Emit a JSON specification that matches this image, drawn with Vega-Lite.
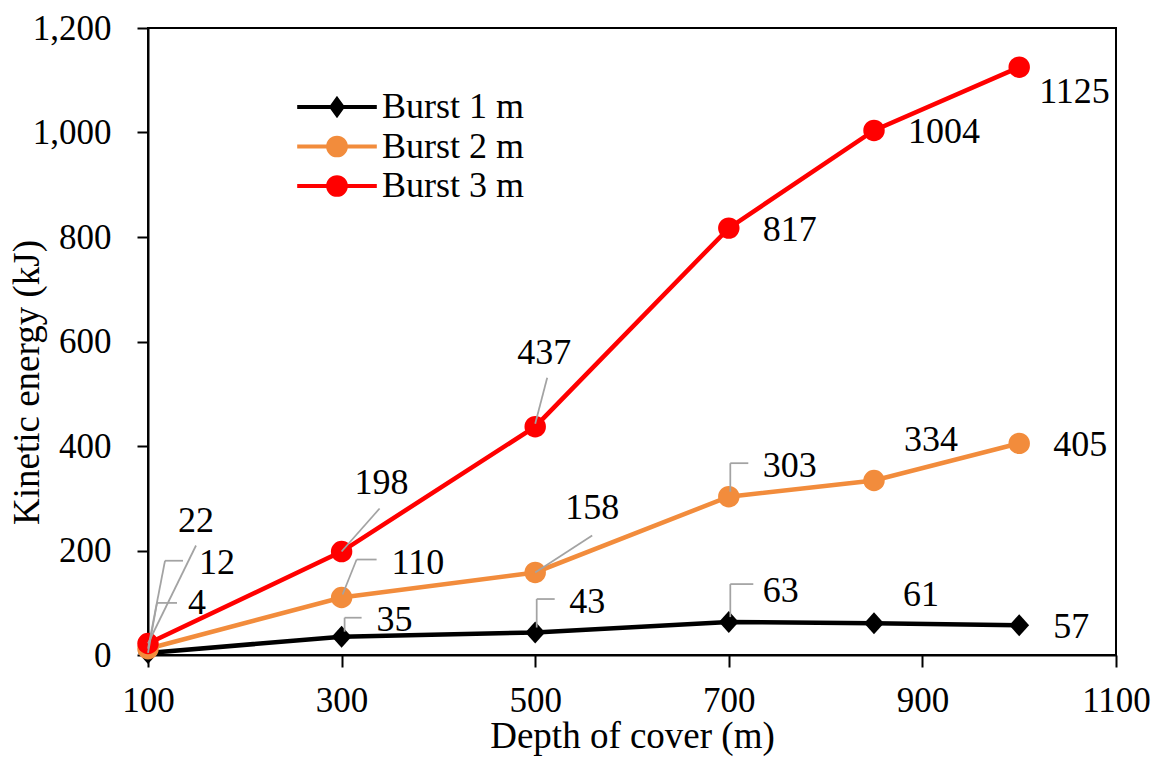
{
  "$schema": "https://vega.github.io/schema/vega-lite/v6.json",
  "width": 968,
  "height": 627,
  "autosize": "none",
  "padding": {"left": 148, "top": 28, "right": 44, "bottom": 102},
  "background": "white",
  "data": {
    "values": [
      {"series": "Burst 1 m", "depth": 100, "energy": 4},
      {"series": "Burst 1 m", "depth": 300, "energy": 35},
      {"series": "Burst 1 m", "depth": 500, "energy": 43},
      {"series": "Burst 1 m", "depth": 700, "energy": 63},
      {"series": "Burst 1 m", "depth": 850, "energy": 61},
      {"series": "Burst 1 m", "depth": 1000, "energy": 57},
      {"series": "Burst 2 m", "depth": 100, "energy": 12},
      {"series": "Burst 2 m", "depth": 300, "energy": 110},
      {"series": "Burst 2 m", "depth": 500, "energy": 158},
      {"series": "Burst 2 m", "depth": 700, "energy": 303},
      {"series": "Burst 2 m", "depth": 850, "energy": 334},
      {"series": "Burst 2 m", "depth": 1000, "energy": 405},
      {"series": "Burst 3 m", "depth": 100, "energy": 22},
      {"series": "Burst 3 m", "depth": 300, "energy": 198},
      {"series": "Burst 3 m", "depth": 500, "energy": 437},
      {"series": "Burst 3 m", "depth": 700, "energy": 817},
      {"series": "Burst 3 m", "depth": 850, "energy": 1004},
      {"series": "Burst 3 m", "depth": 1000, "energy": 1125}
    ]
  },
  "encoding": {
    "x": {
      "field": "depth", "type": "quantitative",
      "scale": {"domain": [100, 1100], "nice": false, "zero": false},
      "axis": {"values": [100, 300, 500, 700, 900, 1100], "format": "d", "tickSize": 12, "labelPadding": 16, "labelFlush": false, "labelOverlap": false, "title": "Depth of cover (m)", "titlePadding": 0}
    },
    "y": {
      "field": "energy", "type": "quantitative",
      "scale": {"domain": [0, 1200], "nice": false},
      "axis": {"values": [0, 200, 400, 600, 800, 1000, 1200], "format": ",.0f", "tickSize": 11, "labelPadding": 26, "labelFlush": false, "labelOverlap": false, "title": "Kinetic energy (kJ)", "titleX": -102, "titleY": 354, "titleBaseline": "bottom", "titleAngle": -90, "titleAlign": "center"}
    }
  },
  "layer": [
    {
      "mark": {"type": "line", "strokeWidth": 4.5},
      "encoding": {
        "color": {
          "field": "series", "type": "nominal",
          "scale": {"domain": ["Burst 1 m", "Burst 2 m", "Burst 3 m"], "range": ["#000000", "#F28C3C", "#FF0000"]},
          "legend": {
            "orient": "none", "legendX": 171, "legendY": 61, "title": null, "padding": 0,
            "symbolSize": 484, "symbolStrokeWidth": 1.5, "symbolOpacity": 1, "labelOffset": 27, "labelFontSize": 36, "labelColor": "black", "rowPadding": 3.5
          }
        }
      }
    },
    {
      "mark": {"type": "point", "filled": true, "opacity": 0, "size": 484},
      "encoding": {
        "color": {"field": "series", "type": "nominal"},
        "shape": {
          "field": "series", "type": "nominal",
          "scale": {"domain": ["Burst 1 m", "Burst 2 m", "Burst 3 m"], "range": [
            "M-3.55,-0.12H3.55V0.12H-3.55ZM0,-0.9L0.65,0L0,0.9L-0.65,0Z",
            "M-3.55,-0.12H3.55V0.12H-3.55ZM-0.92,0A0.92,0.92,0,1,1,0.92,0A0.92,0.92,0,1,1,-0.92,0Z",
            "M-3.55,-0.12H3.55V0.12H-3.55ZM-0.92,0A0.92,0.92,0,1,1,0.92,0A0.92,0.92,0,1,1,-0.92,0Z"
          ]},
          "legend": {
            "orient": "none", "legendX": 171, "legendY": 61, "title": null, "padding": 0,
            "symbolSize": 484, "symbolStrokeWidth": 1.5, "symbolOpacity": 1, "labelOffset": 27, "labelFontSize": 36, "labelColor": "black", "rowPadding": 3.5
          }
        }
      }
    },
    {
      "transform": [{"filter": "datum.series === 'Burst 1 m'"}],
      "mark": {"type": "point", "filled": true, "opacity": 1, "size": 484, "shape": "M-0.9,0L0,-1L0.9,0L0,1Z"},
      "encoding": {"color": {"field": "series", "type": "nominal", "legend": null}}
    },
    {
      "transform": [{"filter": "datum.series !== 'Burst 1 m'"}],
      "mark": {"type": "point", "filled": true, "opacity": 1, "size": 460, "shape": "circle"},
      "encoding": {"color": {"field": "series", "type": "nominal", "legend": null}}
    },
    {"transform": [{"filter": "datum.series === 'Burst 3 m' && datum.depth === 100"}], "mark": {"type": "rule", "xOffset": 0, "yOffset": 0, "x2Offset": 48, "y2Offset": -98}, "encoding": {"x2": {"field": "depth"}, "y2": {"field": "energy"}}},
    {"transform": [{"filter": "datum.series === 'Burst 3 m' && datum.depth === 300"}], "mark": {"type": "rule", "xOffset": 0, "yOffset": 0, "x2Offset": 38, "y2Offset": -43}, "encoding": {"x2": {"field": "depth"}, "y2": {"field": "energy"}}},
    {"transform": [{"filter": "datum.series === 'Burst 2 m' && datum.depth === 500"}], "mark": {"type": "rule", "xOffset": 0, "yOffset": 0, "x2Offset": 57, "y2Offset": -37}, "encoding": {"x2": {"field": "depth"}, "y2": {"field": "energy"}}},
    {"transform": [{"filter": "datum.series === 'Burst 3 m' && datum.depth === 500"}], "mark": {"type": "rule", "xOffset": 0, "yOffset": -3, "x2Offset": 12, "y2Offset": -49}, "encoding": {"x2": {"field": "depth"}, "y2": {"field": "energy"}}},
    {"transform": [{"filter": "datum.series === 'Burst 2 m' && datum.depth === 100"}], "mark": {"type": "rule", "xOffset": 0, "yOffset": 0, "x2Offset": 17, "y2Offset": -88}, "encoding": {"x2": {"field": "depth"}, "y2": {"field": "energy"}}},
    {"transform": [{"filter": "datum.series === 'Burst 2 m' && datum.depth === 100"}], "mark": {"type": "rule", "xOffset": 17, "yOffset": -88, "x2Offset": 35, "y2Offset": -88}, "encoding": {"x2": {"field": "depth"}, "y2": {"field": "energy"}}},
    {"transform": [{"filter": "datum.series === 'Burst 1 m' && datum.depth === 100"}], "mark": {"type": "rule", "xOffset": 0, "yOffset": 0, "x2Offset": 9, "y2Offset": -50}, "encoding": {"x2": {"field": "depth"}, "y2": {"field": "energy"}}},
    {"transform": [{"filter": "datum.series === 'Burst 1 m' && datum.depth === 100"}], "mark": {"type": "rule", "xOffset": 9, "yOffset": -50, "x2Offset": 29, "y2Offset": -50}, "encoding": {"x2": {"field": "depth"}, "y2": {"field": "energy"}}},
    {"transform": [{"filter": "datum.series === 'Burst 1 m' && datum.depth === 300"}], "mark": {"type": "rule", "xOffset": 3, "yOffset": -5, "x2Offset": 3, "y2Offset": -19}, "encoding": {"x2": {"field": "depth"}, "y2": {"field": "energy"}}},
    {"transform": [{"filter": "datum.series === 'Burst 1 m' && datum.depth === 300"}], "mark": {"type": "rule", "xOffset": 3, "yOffset": -19, "x2Offset": 20, "y2Offset": -19}, "encoding": {"x2": {"field": "depth"}, "y2": {"field": "energy"}}},
    {"transform": [{"filter": "datum.series === 'Burst 2 m' && datum.depth === 300"}], "mark": {"type": "rule", "xOffset": 1, "yOffset": -3, "x2Offset": 15, "y2Offset": -38}, "encoding": {"x2": {"field": "depth"}, "y2": {"field": "energy"}}},
    {"transform": [{"filter": "datum.series === 'Burst 2 m' && datum.depth === 300"}], "mark": {"type": "rule", "xOffset": 15, "yOffset": -38, "x2Offset": 35, "y2Offset": -38}, "encoding": {"x2": {"field": "depth"}, "y2": {"field": "energy"}}},
    {"transform": [{"filter": "(datum.series === 'Burst 1 m' && datum.depth === 500) || (datum.series === 'Burst 2 m' && datum.depth === 700)"}], "mark": {"type": "rule", "xOffset": 1.5, "yOffset": -5, "x2Offset": 1.5, "y2Offset": -33.5}, "encoding": {"x2": {"field": "depth"}, "y2": {"field": "energy"}}},
    {"transform": [{"filter": "(datum.series === 'Burst 1 m' && datum.depth === 500) || (datum.series === 'Burst 2 m' && datum.depth === 700)"}], "mark": {"type": "rule", "xOffset": 1.5, "yOffset": -33.5, "x2Offset": 19.5, "y2Offset": -33.5}, "encoding": {"x2": {"field": "depth"}, "y2": {"field": "energy"}}},
    {"transform": [{"filter": "datum.series === 'Burst 1 m' && datum.depth === 700"}], "mark": {"type": "rule", "xOffset": 1.5, "yOffset": -5, "x2Offset": 1.5, "y2Offset": -38}, "encoding": {"x2": {"field": "depth"}, "y2": {"field": "energy"}}},
    {"transform": [{"filter": "datum.series === 'Burst 1 m' && datum.depth === 700"}], "mark": {"type": "rule", "xOffset": 1.5, "yOffset": -38, "x2Offset": 24.5, "y2Offset": -38}, "encoding": {"x2": {"field": "depth"}, "y2": {"field": "energy"}}},
    {"transform": [{"filter": "(datum.series === 'Burst 3 m' && (datum.depth === 700 || datum.depth === 850)) || (datum.depth === 1000 && datum.series !== 'Burst 3 m')"}], "mark": {"type": "text", "dx": 34, "dy": 2}, "encoding": {"text": {"field": "energy", "type": "quantitative"}}},
    {"transform": [{"filter": "(datum.series === 'Burst 2 m' && datum.depth === 700) || (datum.series === 'Burst 1 m' && (datum.depth === 700 || datum.depth === 500))"}], "mark": {"type": "text", "dx": 34, "dy": -31}, "encoding": {"text": {"field": "energy", "type": "quantitative"}}},
    {"transform": [{"filter": "datum.series === 'Burst 1 m' && datum.depth === 850"}], "mark": {"type": "text", "dx": 29, "dy": -28}, "encoding": {"text": {"field": "energy", "type": "quantitative"}}},
    {"transform": [{"filter": "datum.series === 'Burst 3 m' && datum.depth === 1000"}], "mark": {"type": "text", "dx": 20, "dy": 25}, "encoding": {"text": {"field": "energy", "type": "quantitative"}}},
    {"transform": [{"filter": "datum.series === 'Burst 2 m' && datum.depth === 850"}], "mark": {"type": "text", "dx": 30, "dy": -40}, "encoding": {"text": {"field": "energy", "type": "quantitative"}}},
    {"transform": [{"filter": "datum.series === 'Burst 1 m' && datum.depth === 300"}], "mark": {"type": "text", "dx": 35, "dy": -17}, "encoding": {"text": {"field": "energy", "type": "quantitative"}}},
    {"transform": [{"filter": "datum.series === 'Burst 2 m' && datum.depth === 300"}], "mark": {"type": "text", "dx": 50, "dy": -35}, "encoding": {"text": {"field": "energy", "type": "quantitative"}}},
    {"transform": [{"filter": "datum.series === 'Burst 3 m' && datum.depth === 300"}], "mark": {"type": "text", "dx": 13, "dy": -69}, "encoding": {"text": {"field": "energy", "type": "quantitative"}}},
    {"transform": [{"filter": "datum.series === 'Burst 2 m' && datum.depth === 500"}], "mark": {"type": "text", "dx": 30, "dy": -64}, "encoding": {"text": {"field": "energy", "type": "quantitative"}}},
    {"transform": [{"filter": "datum.series === 'Burst 3 m' && datum.depth === 500"}], "mark": {"type": "text", "dx": -18, "dy": -74}, "encoding": {"text": {"field": "energy", "type": "quantitative"}}},
    {"transform": [{"filter": "datum.series === 'Burst 3 m' && datum.depth === 100"}], "mark": {"type": "text", "dx": 30, "dy": -123}, "encoding": {"text": {"field": "energy", "type": "quantitative"}}},
    {"transform": [{"filter": "datum.series === 'Burst 2 m' && datum.depth === 100"}], "mark": {"type": "text", "dx": 51, "dy": -86}, "encoding": {"text": {"field": "energy", "type": "quantitative"}}},
    {"transform": [{"filter": "datum.series === 'Burst 1 m' && datum.depth === 100"}], "mark": {"type": "text", "dx": 40, "dy": -50}, "encoding": {"text": {"field": "energy", "type": "quantitative"}}}
  ],
  "config": {
    "font": "'Liberation Serif', 'Times New Roman', Times, serif",
    "view": {"stroke": "black", "strokeWidth": 2},
    "legend": {"labelFont": "'Liberation Serif', 'Times New Roman', Times, serif"},
    "axis": {
      "grid": false, "domainColor": "black", "domainWidth": 2, "tickColor": "black", "tickWidth": 2,
      "labelColor": "black", "labelFont": "'Liberation Serif', 'Times New Roman', Times, serif", "labelFontSize": 35,
      "titleFont": "'Liberation Serif', 'Times New Roman', Times, serif", "titleFontSize": 37, "titleFontWeight": "normal", "titleColor": "black"
    },
    "text": {"font": "'Liberation Serif', 'Times New Roman', Times, serif", "fontSize": 36, "align": "left", "baseline": "middle", "color": "black"},
    "rule": {"color": "#a3a3a3", "strokeWidth": 1.75}
  }
}
